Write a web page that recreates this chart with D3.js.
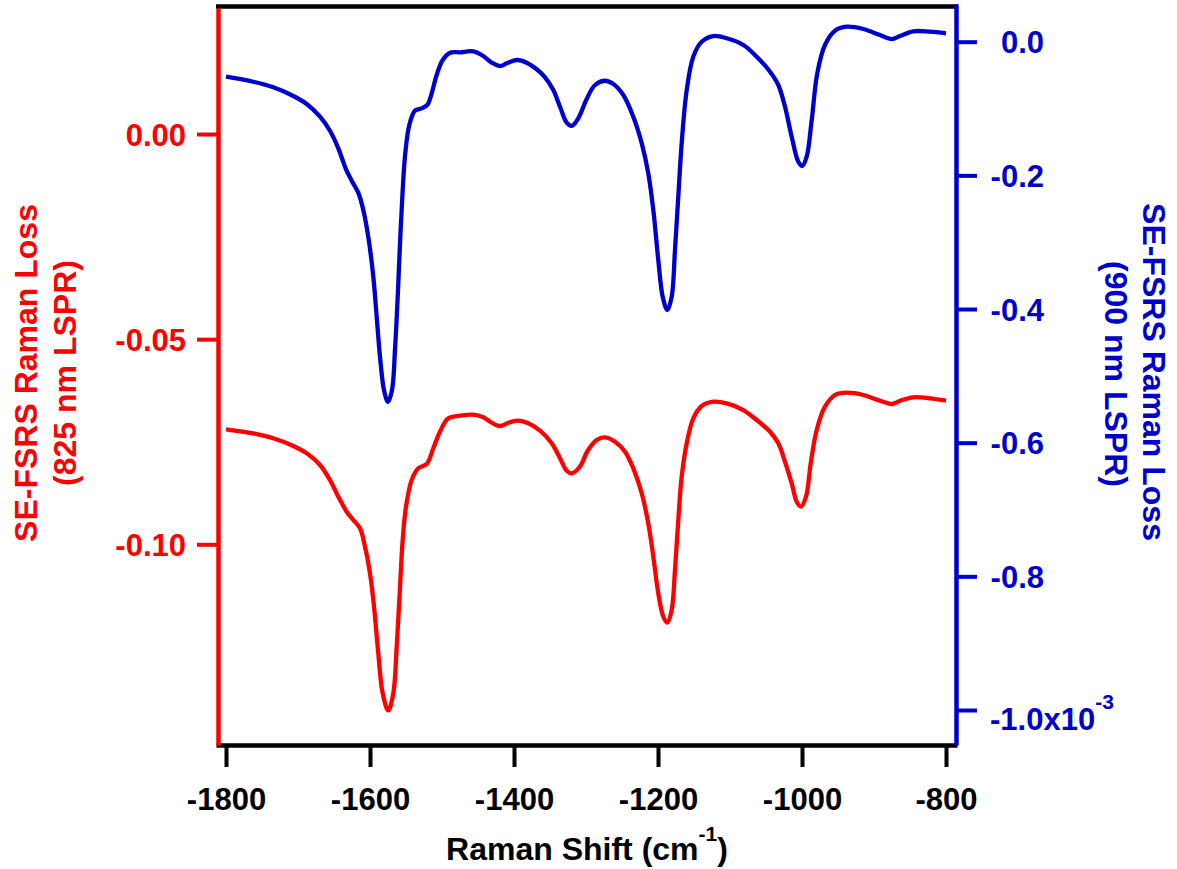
<!DOCTYPE html>
<html>
<head>
<meta charset="utf-8">
<script src="https://cdn.jsdelivr.net/npm/d3@7"></script>
<style>
  html, body { margin: 0; padding: 0; background: #fff; }
  svg { display: block; }
  text { font-family: "Liberation Sans", Arial, Helvetica, sans-serif; font-weight: bold; }
</style>
</head>
<body>
<svg id="chart" width="1177" height="869"></svg>
<script>
// Raman shift (cm^-1) and SE-FSRS Raman loss, 825 nm LSPR (left axis)
const redShift = [-1800, -1762.1, -1734.3, -1706.5, -1687.9, -1669.4, -1655.6, -1644.0, -1632.4, -1623.2,
  -1613.9, -1606.9, -1600.0, -1594.4, -1588.5, -1582.4, -1574.6, -1567.6, -1562.9, -1558.3,
  -1554.6, -1550.0, -1542.1, -1532.9, -1521.2, -1512.1, -1502.8, -1491.3, -1475.0, -1456.5,
  -1442.6, -1431.0, -1419.4, -1407.9, -1394.0, -1380.1, -1363.9, -1347.6, -1336.1, -1326.8,
  -1319.9, -1308.3, -1297.9, -1285.2, -1273.6, -1259.7, -1245.8, -1234.3, -1222.6, -1213.5,
  -1206.5, -1199.6, -1192.6, -1187.1, -1181.0, -1176.4, -1171.8, -1167.1, -1160.1, -1151.0,
  -1139.3, -1123.2, -1104.6, -1081.5, -1062.9, -1044.4, -1032.9, -1023.6, -1014.3, -1007.4,
  -1001.4, -994.4, -987.9, -979.6, -968.1, -954.2, -937.9, -914.9, -891.7, -875.4,
  -863.9, -845.4, -822.2, -800];
const redLoss = [-0.07197, -0.07295, -0.07416, -0.07604, -0.07782, -0.08067, -0.08433, -0.08840, -0.09205, -0.09408,
  -0.09610, -0.10059, -0.10707, -0.11521, -0.12657, -0.13632, -0.14050, -0.13632, -0.12496, -0.11033,
  -0.09895, -0.09084, -0.08433, -0.08148, -0.08043, -0.07660, -0.07256, -0.06929, -0.06866, -0.06841,
  -0.06905, -0.07036, -0.07117, -0.07036, -0.06988, -0.07051, -0.07231, -0.07538, -0.07904, -0.08206,
  -0.08270, -0.08104, -0.07726, -0.07458, -0.07392, -0.07499, -0.07743, -0.08148, -0.08757, -0.09488,
  -0.10302, -0.11194, -0.11765, -0.11910, -0.11601, -0.10626, -0.09408, -0.08352, -0.07538, -0.06929,
  -0.06629, -0.06524, -0.06564, -0.06727, -0.06971, -0.07256, -0.07538, -0.07987, -0.08513, -0.08962,
  -0.09080, -0.08840, -0.08026, -0.07214, -0.06646, -0.06361, -0.06305, -0.06361, -0.06500, -0.06581,
  -0.06500, -0.06417, -0.06442, -0.06500];

// Raman shift (cm^-1) and SE-FSRS Raman loss, 900 nm LSPR (right axis, in units of 10^-3)
const blueShift = [-1800, -1762.1, -1734.3, -1706.5, -1687.9, -1669.4, -1655.6, -1644.0, -1633.3, -1625.4,
  -1616.3, -1609.3, -1602.4, -1595.4, -1590.7, -1586.1, -1580.6, -1575.0, -1569.4, -1565.3,
  -1561.5, -1558.3, -1554.6, -1551.0, -1545.4, -1537.5, -1528.2, -1520.4, -1514.3, -1507.4,
  -1499.0, -1488.9, -1475.0, -1456.5, -1442.6, -1431.0, -1419.4, -1410.1, -1396.3, -1382.4,
  -1368.5, -1356.9, -1345.4, -1336.1, -1326.8, -1319.9, -1310.7, -1299.0, -1287.5, -1273.6,
  -1262.1, -1248.2, -1234.3, -1222.6, -1213.5, -1206.5, -1199.6, -1193.5, -1187.1, -1181.0,
  -1176.4, -1171.8, -1167.1, -1160.1, -1151.0, -1139.3, -1123.2, -1104.6, -1081.5, -1062.9,
  -1044.4, -1032.9, -1023.6, -1014.3, -1005.1, -999.6, -993.5, -986.5, -978.8, -968.1,
  -954.2, -937.9, -914.9, -891.7, -875.4, -863.9, -845.4, -822.2, -800];
const blueLoss = [-0.0524, -0.0599, -0.0682, -0.0812, -0.0932, -0.1122, -0.1332, -0.1595, -0.1909, -0.2080,
  -0.2259, -0.2518, -0.2918, -0.3516, -0.4115, -0.4713, -0.5212, -0.5390, -0.5212, -0.4613,
  -0.3816, -0.3017, -0.2219, -0.1670, -0.1246, -0.1032, -0.0997, -0.0947, -0.0772, -0.0498,
  -0.0274, -0.0165, -0.0159, -0.0144, -0.0214, -0.0314, -0.0364, -0.0323, -0.0274, -0.0314,
  -0.0413, -0.0533, -0.0723, -0.0973, -0.1212, -0.1260, -0.1146, -0.0857, -0.0648, -0.0584,
  -0.0633, -0.0798, -0.1122, -0.1520, -0.1969, -0.2518, -0.3266, -0.3816, -0.4015, -0.3816,
  -0.3117, -0.2319, -0.1520, -0.0723, -0.0224, 0.0000, 0.0085, 0.0051, -0.0049, -0.0224,
  -0.0449, -0.0648, -0.0973, -0.1422, -0.1796, -0.1860, -0.1721, -0.1172, -0.0473, -0.0049,
  0.0165, 0.0224, 0.0190, 0.0100, 0.0040, 0.0085, 0.0156, 0.0150, 0.0126];

const xTicks = [-1800, -1600, -1400, -1200, -1000, -800];
const redTicks = [0, -0.05, -0.10];
const blueTicks = [0, -0.2, -0.4, -0.6, -0.8, -1.0];

const RED = "#ff0000", BLUE = "#0000cc", BLACK = "#000000";
const frame = { left: 218, right: 956, top: 6.5, bottom: 745 };
const tickFont = 31;

const svg = d3.select("#chart");

// Scales calibrated on tick positions, then extended to the frame
const x = d3.scaleLinear().domain([-1800, -800]).range([226, 946]);
x.domain([x.invert(frame.left - 2), x.invert(frame.right + 1)]).range([frame.left - 2, frame.right + 1]);

const yRed = d3.scaleLinear().domain([-0.10, 0]).range([544.3, 134]);
yRed.domain([yRed.invert(frame.bottom), yRed.invert(8)]).range([frame.bottom, 8]);

const yBlue = d3.scaleLinear().domain([-1.0, 0]).range([710, 41.7]);
yBlue.domain([yBlue.invert(frame.bottom), yBlue.invert(4)]).range([frame.bottom, 4]);

// Spectra
const lineRed = d3.line().x(d => x(d[0])).y(d => yRed(d[1])).curve(d3.curveCatmullRom.alpha(0.5));
const lineBlue = d3.line().x(d => x(d[0])).y(d => yBlue(d[1])).curve(d3.curveCatmullRom.alpha(0.5));

svg.append("path")
  .datum(d3.zip(redShift, redLoss))
  .attr("d", lineRed)
  .attr("fill", "none").attr("stroke", RED).attr("stroke-width", 4.3)
  .attr("stroke-linejoin", "round").attr("stroke-linecap", "butt");

svg.append("path")
  .datum(d3.zip(blueShift, blueLoss))
  .attr("d", lineBlue)
  .attr("fill", "none").attr("stroke", BLUE).attr("stroke-width", 4.3)
  .attr("stroke-linejoin", "round").attr("stroke-linecap", "butt");

// Top frame line
svg.append("line")
  .attr("x1", frame.left - 2).attr("x2", frame.right + 2)
  .attr("y1", frame.top).attr("y2", frame.top)
  .attr("stroke", BLACK).attr("stroke-width", 4.5);

function styleAxis(g, color) {
  g.attr("font-size", null).attr("font-family", null);
  g.select(".domain").attr("stroke", color).attr("stroke-width", 4.5);
  g.selectAll(".tick line").attr("stroke", color).attr("stroke-width", 4);
  g.selectAll(".tick text").attr("fill", color).style("font-size", tickFont + "px");
}

// Bottom axis
const gx = svg.append("g")
  .attr("transform", `translate(0,${frame.bottom})`)
  .call(d3.axisBottom(x).tickValues(xTicks).tickFormat(d => String(d)).tickSize(22).tickSizeOuter(0));
styleAxis(gx, BLACK);
gx.selectAll(".tick text").attr("y", 65).attr("dy", null);

// Left (red) axis
const gl = svg.append("g")
  .attr("transform", `translate(${frame.left},0)`)
  .call(d3.axisLeft(yRed).tickValues(redTicks).tickFormat(d => d.toFixed(2)).tickSize(21).tickSizeOuter(0));
styleAxis(gl, RED);
gl.selectAll(".tick text").attr("x", -32).attr("dy", "0.36em");

// Right (blue) axis
const gr = svg.append("g")
  .attr("transform", `translate(${frame.right},0)`)
  .call(d3.axisRight(yBlue).tickValues(blueTicks).tickFormat(d => d.toFixed(1)).tickSize(21).tickSizeOuter(0));
styleAxis(gr, BLUE);
gr.selectAll(".tick text").attr("x", 88).attr("dy", "0.36em").attr("text-anchor", "end");
// Last label carries the axis multiplier
gr.selectAll(".tick text").filter(d => d === -1.0)
  .attr("text-anchor", "start").attr("x", 34).attr("dy", null).attr("y", 19)
  .text("-1.0x10")
  .append("tspan").attr("dy", -21).style("font-size", "21px").text("-3");

// Bottom (x) title
const xt = svg.append("text")
  .attr("x", (frame.left + frame.right) / 2).attr("y", 860)
  .attr("text-anchor", "middle").attr("fill", BLACK).style("font-size", "32px");
xt.append("tspan").text("Raman Shift (cm");
xt.append("tspan").attr("dy", -19).style("font-size", "21px").text("-1");
xt.append("tspan").attr("dy", 19).text(")");

// Left (red) title
const lt = svg.append("g").attr("fill", RED).style("font-size", "32px");
lt.append("text").attr("transform", "translate(37,373) rotate(-90)").attr("text-anchor", "middle")
  .text("SE-FSRS Raman Loss");
lt.append("text").attr("transform", "translate(76,373) rotate(-90)").attr("text-anchor", "middle")
  .text("(825 nm LSPR)");

// Right (blue) title
const rt = svg.append("g").attr("fill", BLUE).style("font-size", "32px");
rt.append("text").attr("transform", "translate(1143,372) rotate(90)").attr("text-anchor", "middle")
  .text("SE-FSRS Raman Loss");
rt.append("text").attr("transform", "translate(1105,374) rotate(90)").attr("text-anchor", "middle")
  .text("(900 nm LSPR)");
</script>
</body>
</html>
